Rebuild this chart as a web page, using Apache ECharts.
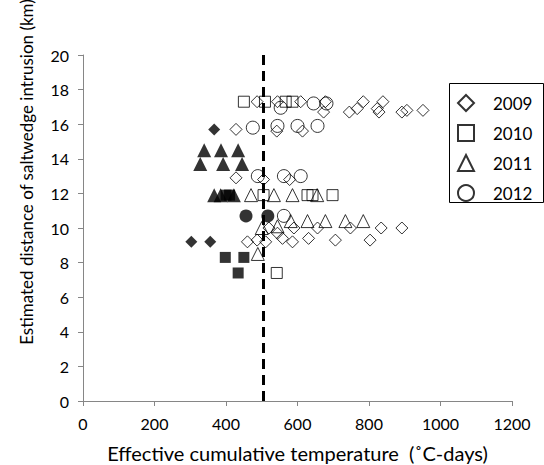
<!DOCTYPE html>
<html>
<head>
<meta charset="utf-8">
<script src="https://cdn.jsdelivr.net/npm/echarts@6/dist/echarts.min.js"></script>
<style>
html,body{margin:0;padding:0;background:#fff;}
#c{width:544px;height:465px;}
</style>
</head>
<body>
<div id="c"></div>
<script>
// ---- data (x: effective cumulative temperature, y: distance km) ----
const xTicks = [0, 200, 400, 600, 800, 1000, 1200];
const yTicks = [0, 2, 4, 6, 8, 10, 12, 14, 16, 18, 20];
const years = ['2009', '2010', '2011', '2012'];
const thresholdTemp = 505;

const open2009 = [
  [487,17.3],[544,17.3],[609,17.3],[678,17.3],[673,16.7],[745,16.7],[767,16.9],[784,17.3],
  [823,16.9],[828,16.7],[839,17.3],[892,16.7],[906,16.8],[951,16.8],
  [428,15.7],[542,15.6],[614,15.6],
  [428,12.9],[505,12.8],[578,12.8],
  [460,9.2],[487,9.3],[511,9.2],[520,10.0],[544,9.7],[558,9.4],[586,9.2],[590,10.0],
  [631,9.4],[656,10.0],[706,9.3],[748,10.0],[803,9.3],[834,10.0],[892,10.0]
];
const open2010 = [
  [450,17.3],[509,17.3],[567,17.3],[586,17.3],
  [505,11.9],[628,11.9],[642,11.9],[698,11.9],
  [542,7.4]
];
const open2011 = [
  [470,11.9],[534,11.9],[586,11.9],[655,11.9],
  [581,10.4],[628,10.4],[678,10.4],[734,10.4],[784,10.4],
  [500,10.0],[544,10.1],[489,8.5]
];
const open2012 = [
  [553,16.95],[645,17.2],[681,17.2],
  [475,15.8],[544,15.9],[600,15.9],[656,15.9],
  [489,13.0],[562,13.0],[609,13.0],
  [562,10.7]
];
const filled2009 = [[367,15.7],[303,9.2],[356,9.2]];
const filled2010 = [[398,8.3],[450,8.3],[434,7.4],[400,11.9],[410,11.9]];
const filled2011 = [
  [339,14.5],[386,14.5],[434,14.5],
  [328,13.7],[392,13.7],[445,13.7],
  [367,11.9],[385,11.9],[422,11.9]
];
const filled2012 = [[456,10.7],[517,10.7]];

const FONT = 'Lato';
const chart = echarts.init(document.getElementById('c'), null, {renderer: 'svg'});

function openSeries(name, data, symbol, size) {
  return {
    name: name, type: 'scatter', data: data, symbol: symbol, symbolSize: size,
    itemStyle: {color: 'rgba(0,0,0,0)', borderColor: '#000', borderWidth: 1},
    emphasis: {disabled: true}, z: 3
  };
}
function filledSeries(name, data, symbol, size) {
  return {
    name: name, type: 'scatter', data: data, symbol: symbol, symbolSize: size,
    itemStyle: {color: '#000', borderColor: '#000', borderWidth: 0},
    emphasis: {disabled: true}, z: 4
  };
}

const option = {
  animation: false,
  backgroundColor: '#fff',
  textStyle: {fontFamily: FONT},
  grid: {left: 83, top: 55, width: 429, height: 346, containLabel: false, outerBoundsMode: 'none'},
  xAxis: {
    type: 'value', min: xTicks[0], max: xTicks[xTicks.length - 1], interval: 200,
    name: 'Effective cumulative temperature  (˚C-days)',
    nameLocation: 'middle', nameGap: 42,
    nameTextStyle: {fontSize: 20, lineHeight: 20, color: '#000', fontFamily: FONT},
    axisLine: {onZero: false, lineStyle: {color: '#868686', width: 1}},
    axisTick: {show: true, length: 5, lineStyle: {color: '#868686'}},
    axisLabel: {fontSize: 16, color: '#000', margin: 14, fontFamily: FONT,
      formatter: function (v) { return String(v); }},
    splitLine: {show: false}
  },
  yAxis: {
    type: 'value', min: yTicks[0], max: yTicks[yTicks.length - 1], interval: 2,
    axisLine: {show: true, onZero: false, lineStyle: {color: '#868686', width: 1}},
    axisTick: {show: true, length: 5, lineStyle: {color: '#868686'}},
    axisLabel: {fontSize: 16, color: '#000', margin: 14, fontFamily: FONT,
      formatter: function (v) { return String(v); }},
    splitLine: {show: false}
  },
  legend: {
    data: years,
    orient: 'vertical',
    left: 457, top: 94,
    padding: 0,
    itemWidth: 16, itemHeight: 16, itemGap: 12,
    textStyle: {fontSize: 17, color: '#000', fontFamily: FONT, lineHeight: 16,
      padding: [0, 0, 0, 14]},
    selectedMode: false
  },
  graphic: [
    {
      type: 'rect', left: 449, top: 83, z: 1,
      shape: {width: 94, height: 119},
      style: {fill: '#fff', stroke: '#000', lineWidth: 1}
    },
    {
      type: 'text', x: 26, y: 172, rotation: Math.PI / 2,
      style: {
        text: 'Estimated distance of saltwedge intrusion (km)',
        fontSize: 17, fontFamily: FONT, fill: '#000',
        align: 'center', verticalAlign: 'middle'
      }
    }
  ],
  series: [
    openSeries('2009', open2009, 'diamond', 12),
    openSeries('2010', open2010, 'rect', 11),
    openSeries('2011', open2011, 'triangle', 13),
    openSeries('2012', open2012, 'circle', 13),
    filledSeries('2009 early', filled2009, 'diamond', 12),
    filledSeries('2010 early', filled2010, 'rect', 11),
    filledSeries('2011 early', filled2011, 'triangle', 14),
    filledSeries('2012 early', filled2012, 'circle', 13),
    {
      name: 'threshold', type: 'scatter', data: [], silent: true,
      markLine: {
        silent: true, symbol: ['none', 'none'], label: {show: false},
        lineStyle: {color: '#000', width: 3, type: [10, 6]},
        data: [{xAxis: thresholdTemp}]
      }
    }
  ]
};
chart.setOption(option);
</script>
</body>
</html>
